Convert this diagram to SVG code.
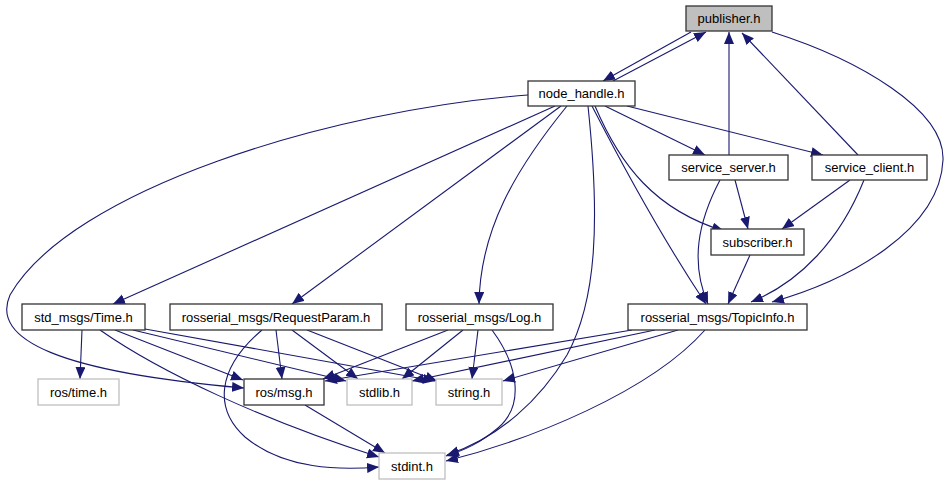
<svg xmlns="http://www.w3.org/2000/svg" width="949" height="485" viewBox="0 0 949 485">
<defs>
<marker id="ah" markerUnits="userSpaceOnUse" markerWidth="13" markerHeight="11" refX="12" refY="5" orient="auto">
<path d="M0,0 L12,5 L0,10 z" fill="#191970"/>
</marker>
<style>
.n rect{fill:#fff;stroke:#333;stroke-width:1.3}
.g rect{fill:#fff;stroke:#bfbfbf;stroke-width:1.3}
.c rect{fill:#bfbfbf;stroke:#333;stroke-width:1.3}
text{font-family:"Liberation Sans",Arial,sans-serif;font-size:13px;fill:#000;text-anchor:middle}
#edges path{fill:none;stroke:#191970;stroke-width:1.1;marker-end:url(#ah)}
</style>
</defs>
<rect width="949" height="485" fill="#fff"/>
<g id="edges">
<path d="M691,32 L603,81"/>
<path d="M613,81 L706,32"/>
<path d="M729,155 L729,32"/>
<path d="M858,155 L742,33"/>
<path d="M772,32 C860,60 945,110 943,160 C940,230 850,280 772,302"/>
<path d="M528,95 C330,110 70,190 10,295 C-10,340 60,372 244,388"/>
<path d="M555,106 L113,304"/>
<path d="M561,106 L292,304"/>
<path d="M567,106 C515,170 480,230 479,304"/>
<path d="M588,106 C600,220 597,300 567,355 C540,400 500,437 447,455"/>
<path d="M592,106 C630,180 670,250 706,304"/>
<path d="M595,106 C620,165 655,210 724,231"/>
<path d="M605,106 L705,155"/>
<path d="M627,106 L823,155"/>
<path d="M735,180 L748,229"/>
<path d="M720,180 C698,222 690,262 708,304"/>
<path d="M850,180 L782,229"/>
<path d="M864,180 C840,240 800,282 751,302"/>
<path d="M750,255 L728,304"/>
<path d="M82,330 L80,379"/>
<path d="M115,330 L243,380"/>
<path d="M133,330 L346,381"/>
<path d="M145,329 L435,381"/>
<path d="M100,330 C160,372 262,420 379,457"/>
<path d="M276,330 L282,379"/>
<path d="M292,330 L358,379"/>
<path d="M307,330 L437,381"/>
<path d="M262,330 C215,370 215,410 245,437 C285,470 340,470 379,467"/>
<path d="M448,330 L323,379"/>
<path d="M463,330 L402,379"/>
<path d="M478,330 L472,379"/>
<path d="M492,330 C518,365 525,405 498,428 C480,443 465,450 446,456"/>
<path d="M632,330 L325,381"/>
<path d="M655,330 L412,381"/>
<path d="M678,330 L503,381"/>
<path d="M705,330 C650,392 530,440 446,461"/>
<path d="M305,405 L385,453"/>
</g>
<g id="publisher" class="c"><rect x="686" y="6" width="86" height="25"/><text x="729" y="23">publisher.h</text></g>
<g id="node_handle" class="n"><rect x="528" y="81" width="107" height="25"/><text x="581.5" y="98">node_handle.h</text></g>
<g id="service_server" class="n"><rect x="669" y="155" width="119" height="25"/><text x="728.5" y="172">service_server.h</text></g>
<g id="service_client" class="n"><rect x="812" y="155" width="115" height="25"/><text x="869.5" y="172">service_client.h</text></g>
<g id="subscriber" class="n"><rect x="711" y="229" width="93" height="26"/><text x="757.5" y="247">subscriber.h</text></g>
<g id="time_msg" class="n"><rect x="22" y="304" width="123" height="26"/><text x="83.5" y="322">std_msgs/Time.h</text></g>
<g id="request_param" class="n"><rect x="170" y="304" width="212" height="26"/><text x="276" y="322">rosserial_msgs/RequestParam.h</text></g>
<g id="log" class="n"><rect x="406" y="304" width="147" height="26"/><text x="479.5" y="322">rosserial_msgs/Log.h</text></g>
<g id="topic_info" class="n"><rect x="628" y="304" width="179" height="26"/><text x="717.5" y="322">rosserial_msgs/TopicInfo.h</text></g>
<g id="ros_time" class="g"><rect x="38" y="379" width="81" height="26"/><text x="78.5" y="397">ros/time.h</text></g>
<g id="ros_msg" class="n"><rect x="244" y="379" width="80" height="26"/><text x="284" y="397">ros/msg.h</text></g>
<g id="stdlib" class="g"><rect x="347" y="379" width="65" height="26"/><text x="379.5" y="397">stdlib.h</text></g>
<g id="string" class="g"><rect x="436" y="379" width="66" height="26"/><text x="469" y="397">string.h</text></g>
<g id="stdint" class="g"><rect x="379" y="453" width="66" height="26"/><text x="412" y="471">stdint.h</text></g>
</svg>
